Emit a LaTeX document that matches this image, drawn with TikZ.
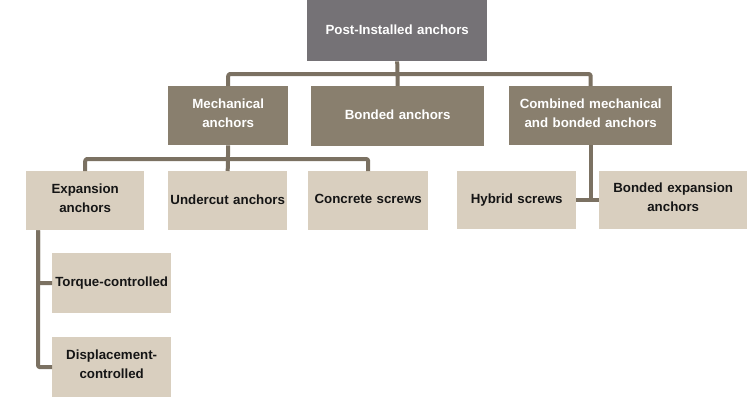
\documentclass[tikz,border=0pt]{standalone}
\usepackage{fontspec}
\setmainfont{Liberation Sans}
\definecolor{topc}{HTML}{757276}
\definecolor{midc}{HTML}{897F6E}
\definecolor{lowc}{HTML}{D9CFBF}
\definecolor{linec}{HTML}{7B7162}
\definecolor{txtd}{HTML}{151515}
\begin{document}
\begin{tikzpicture}[x=1pt,y=-1pt,
  box/.style={anchor=north west, inner sep=0pt, align=center, font=\fontsize{13.3}{19}\selectfont\bfseries},
  topbox/.style={box, fill=topc, text=white},
  midbox/.style={box, fill=midc, text=white},
  lowbox/.style={box, fill=lowc, text=txtd},
  conn/.style={draw=linec, line width=4pt, line join=round, rounded corners=2pt}]
\path[use as bounding box, fill=white] (0,0) rectangle (753,402);
% top
\node[topbox, minimum width=180pt, minimum height=61pt, text width=178pt] (top) at (307,0) {\raisebox{3pt}{Post-Installed anchors}};
% level 2
\node[midbox, minimum width=120pt, minimum height=59pt, text width=118pt] (mech) at (168,86) {Mechanical\\anchors\rule[-6pt]{0pt}{0pt}};
\node[midbox, minimum width=173pt, minimum height=60pt, text width=171pt] (bond) at (311,86) {\raisebox{3pt}{Bonded anchors}};
\node[midbox, minimum width=163pt, minimum height=59pt, text width=162pt] (comb) at (509,86) {Combined mechanical\\and bonded anchors\rule[-6pt]{0pt}{0pt}};
% level 3
\node[lowbox, minimum width=118pt, minimum height=59pt, text width=118pt] (exp) at (26,171) {Expansion\\anchors\rule[-6pt]{0pt}{0pt}};
\node[lowbox, minimum width=119pt, minimum height=59pt, text width=119pt] (under) at (168,171) {\raisebox{3pt}{Undercut anchors}};
\node[lowbox, minimum width=120pt, minimum height=59pt, text width=120pt] (screw) at (308,171) {\raisebox{3pt}{Concrete screws}};
\node[lowbox, minimum width=119pt, minimum height=58pt, text width=119pt] (hyb) at (457,171) {\raisebox{3pt}{Hybrid screws}};
\node[lowbox, minimum width=148pt, minimum height=58pt, text width=148pt] (bexp) at (599,171) {Bonded expansion\\anchors\rule[-6pt]{0pt}{0pt}};
% level 4
\node[lowbox, minimum width=119pt, minimum height=60pt, text width=119pt] (torq) at (52,253) {\raisebox{3pt}{Torque-controlled}};
\node[lowbox, minimum width=119pt, minimum height=60pt, text width=119pt] (disp) at (52,337) {Displacement-\\controlled\rule[-6pt]{0pt}{0pt}};
% connectors
\coordinate (j1) at (398,74);
\coordinate (j2) at (228,159);
\draw[conn] (top.south) -- (bond.north);
\draw[conn] (mech.north) -- (mech.north |- j1) -- (comb.north |- j1) -- (comb.north);
\draw[conn] (mech.south) -- (under.north);
\draw[conn] (exp.north) -- (exp.north |- j2) -- (screw.north |- j2) -- (screw.north);
\draw[conn] (comb.south) -- (comb.south |- hyb.east);
\draw[conn] (hyb.east) -- (bexp.west);
\draw[conn] ([xshift=12pt]exp.south west) |- (torq.west);
\draw[conn] ([xshift=12pt]exp.south west) |- (disp.west);
\end{tikzpicture}
\end{document}
